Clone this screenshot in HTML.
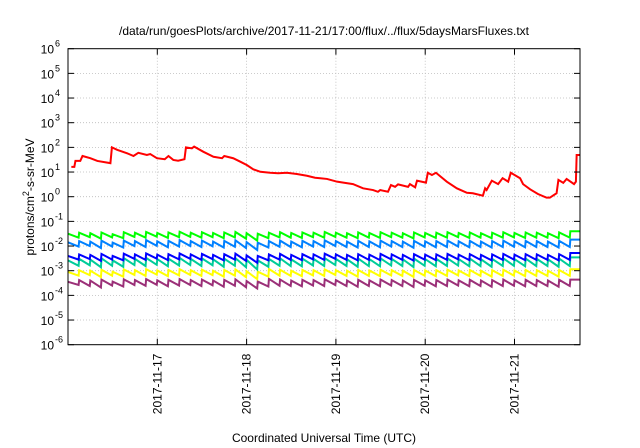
<!DOCTYPE html>
<html><head><meta charset="utf-8"><style>
body{margin:0;background:#fff}
svg{display:block;font-family:"Liberation Sans",Arial,sans-serif}
</style></head><body>
<svg id="chart" width="640" height="448" viewBox="0 0 640 448" xmlns="http://www.w3.org/2000/svg">
<text x="324" y="35" font-size="12" text-anchor="middle">/data/run/goesPlots/archive/2017-11-21/17:00/flux/../flux/5daysMarsFluxes.txt</text>
<text x="324" y="442" font-size="12" text-anchor="middle">Coordinated Universal Time (UTC)</text>
<text transform="translate(34,197) rotate(-90)" font-size="12" text-anchor="middle">protons/cm<tspan dy="-5" font-size="9">2</tspan><tspan dy="5">-s-sr-MeV</tspan></text>
<g id="grid"></g><g id="series"></g><g id="axes"></g>
</svg>
<script>
const xTickLabels=["2017-11-17","2017-11-18","2017-11-19","2017-11-20","2017-11-21"];
const xTickHours=[24,48,72,96,120];
const yTickExps=[-6,-5,-4,-3,-2,-1,0,1,2,3,4,5,6];
const redHours=[0.9,1.7,2.0,3.3,3.9,6.0,7.9,11.4,11.8,13.2,15.9,17.6,18.9,21.2,22.1,23.9,26.0,27.0,28.3,29.6,31.3,31.7,33.3,33.9,36.4,39.1,41.4,42.0,44.4,46.3,48.1,49.8,51.7,54.3,56.5,58.8,61.5,64.2,66.4,67.8,69.6,72.3,74.0,76.6,79.3,82.0,83.3,83.9,86.0,86.8,87.9,88.7,91.4,91.9,93.3,93.8,96.2,96.7,97.8,98.9,101.8,104.5,107.2,108.8,111.5,112.1,112.5,113.9,115.6,116.8,118.3,119.0,121.5,122.3,124.2,126.3,128.6,129.5,131.3,131.8,133.1,134.0,136.0,136.5,136.7,137.5];
const redLog=[1.21,1.21,1.45,1.45,1.65,1.56,1.45,1.36,2.0,1.9,1.76,1.65,1.78,1.69,1.73,1.56,1.52,1.65,1.49,1.46,1.52,2.0,1.96,2.03,1.82,1.62,1.56,1.65,1.56,1.42,1.28,1.11,1.01,0.97,0.95,0.97,0.92,0.85,0.77,0.75,0.72,0.61,0.57,0.51,0.34,0.27,0.2,0.27,0.2,0.47,0.4,0.5,0.4,0.51,0.38,0.65,0.57,0.97,0.88,0.97,0.61,0.34,0.16,0.14,0.04,0.34,0.27,0.65,0.51,0.75,0.61,0.97,0.75,0.51,0.3,0.11,-0.04,-0.04,0.14,0.68,0.56,0.72,0.51,0.61,1.69,1.69];
const greenPeaks=[-1.50,-1.46,-1.48,-1.45,-1.52,-1.44,-1.46,-1.43,-1.47,-1.45,-1.42,-1.46,-1.44,-1.47,-1.45,-1.43,-1.48,-1.50,-1.46,-1.44,-1.47,-1.45,-1.46,-1.43,-1.46,-1.48,-1.45,-1.47,-1.44,-1.46,-1.48,-1.45,-1.47,-1.46,-1.44,-1.47,-1.45,-1.48,-1.46,-1.44,-1.47,-1.45,-1.46,-1.48,-1.45,-1.40];
const greenTroughs=[-1.66,-1.64,-1.70,-1.65,-1.68,-1.63,-1.66,-1.62,-1.67,-1.64,-1.63,-1.66,-1.64,-1.68,-1.65,-1.70,-1.78,-1.68,-1.65,-1.66,-1.67,-1.64,-1.66,-1.63,-1.66,-1.68,-1.66,-1.67,-1.64,-1.66,-1.69,-1.65,-1.67,-1.66,-1.64,-1.67,-1.66,-1.68,-1.66,-1.65,-1.67,-1.66,-1.66,-1.68,-1.66,-1.67];
const azurePeaks=[-1.85,-1.80,-1.82,-1.78,-1.86,-1.78,-1.80,-1.76,-1.81,-1.79,-1.76,-1.80,-1.78,-1.82,-1.79,-1.77,-1.84,-1.86,-1.80,-1.78,-1.82,-1.79,-1.80,-1.77,-1.80,-1.82,-1.79,-1.81,-1.78,-1.80,-1.82,-1.79,-1.81,-1.80,-1.78,-1.81,-1.79,-1.82,-1.80,-1.78,-1.81,-1.79,-1.80,-1.82,-1.79,-1.74];
const azureTroughs=[-2.02,-2.00,-2.08,-2.02,-2.06,-2.00,-2.04,-1.99,-2.05,-2.02,-2.00,-2.04,-2.01,-2.06,-2.03,-2.08,-2.16,-2.06,-2.03,-2.04,-2.05,-2.02,-2.04,-2.00,-2.04,-2.06,-2.04,-2.05,-2.02,-2.04,-2.07,-2.03,-2.05,-2.04,-2.02,-2.05,-2.04,-2.06,-2.04,-2.03,-2.05,-2.04,-2.04,-2.06,-2.04,-2.05];
const bluePeaks=[-2.40,-2.34,-2.36,-2.32,-2.40,-2.31,-2.34,-2.30,-2.35,-2.33,-2.30,-2.34,-2.32,-2.36,-2.33,-2.31,-2.38,-2.40,-2.34,-2.32,-2.36,-2.33,-2.34,-2.31,-2.34,-2.36,-2.33,-2.35,-2.32,-2.34,-2.36,-2.33,-2.35,-2.34,-2.32,-2.35,-2.33,-2.36,-2.34,-2.32,-2.35,-2.33,-2.34,-2.36,-2.33,-2.28];
const blueTroughs=[-2.55,-2.53,-2.60,-2.55,-2.58,-2.52,-2.56,-2.51,-2.57,-2.54,-2.52,-2.56,-2.53,-2.58,-2.55,-2.60,-2.68,-2.58,-2.55,-2.56,-2.57,-2.54,-2.56,-2.52,-2.56,-2.58,-2.56,-2.57,-2.54,-2.56,-2.59,-2.55,-2.57,-2.56,-2.54,-2.57,-2.56,-2.58,-2.56,-2.55,-2.57,-2.56,-2.56,-2.58,-2.56,-2.57];
const tealPeaks=[-2.58,-2.52,-2.55,-2.50,-2.58,-2.49,-2.52,-2.48,-2.53,-2.51,-2.48,-2.52,-2.50,-2.54,-2.51,-2.49,-2.56,-2.58,-2.52,-2.50,-2.54,-2.51,-2.52,-2.49,-2.52,-2.54,-2.51,-2.53,-2.50,-2.52,-2.54,-2.51,-2.53,-2.52,-2.50,-2.53,-2.51,-2.54,-2.52,-2.50,-2.53,-2.51,-2.52,-2.54,-2.51,-2.46];
const tealTroughs=[-2.80,-2.78,-2.86,-2.80,-2.84,-2.77,-2.81,-2.76,-2.82,-2.79,-2.77,-2.81,-2.78,-2.84,-2.80,-2.86,-2.95,-2.84,-2.80,-2.81,-2.82,-2.79,-2.81,-2.77,-2.81,-2.84,-2.81,-2.82,-2.79,-2.81,-2.85,-2.80,-2.82,-2.81,-2.79,-2.82,-2.81,-2.84,-2.81,-2.80,-2.82,-2.81,-2.81,-2.84,-2.81,-2.82];
const yellowPeaks=[-3.05,-2.98,-3.00,-2.96,-3.04,-2.95,-2.98,-2.94,-2.99,-2.97,-2.94,-2.98,-2.96,-3.00,-2.97,-2.95,-3.02,-3.04,-2.93,-2.96,-3.00,-2.97,-2.98,-2.95,-2.98,-3.00,-2.97,-2.99,-2.96,-2.98,-3.00,-2.97,-2.99,-2.98,-2.96,-2.99,-2.97,-3.00,-2.98,-2.96,-2.99,-2.97,-2.98,-3.00,-2.97,-2.94];
const yellowTroughs=[-3.20,-3.18,-3.26,-3.20,-3.24,-3.17,-3.21,-3.16,-3.22,-3.19,-3.17,-3.21,-3.18,-3.24,-3.20,-3.26,-3.34,-3.24,-3.20,-3.21,-3.22,-3.19,-3.21,-3.17,-3.21,-3.24,-3.21,-3.22,-3.19,-3.21,-3.25,-3.20,-3.22,-3.21,-3.19,-3.22,-3.21,-3.24,-3.21,-3.20,-3.22,-3.21,-3.21,-3.24,-3.21,-3.22];
const purplePeaks=[-3.45,-3.38,-3.40,-3.36,-3.44,-3.35,-3.38,-3.34,-3.39,-3.37,-3.34,-3.38,-3.36,-3.40,-3.37,-3.35,-3.42,-3.44,-3.33,-3.36,-3.40,-3.37,-3.38,-3.35,-3.38,-3.40,-3.37,-3.39,-3.36,-3.38,-3.40,-3.37,-3.39,-3.38,-3.36,-3.39,-3.37,-3.40,-3.38,-3.36,-3.39,-3.37,-3.38,-3.40,-3.37,-3.36];
const purpleTroughs=[-3.58,-3.62,-3.68,-3.60,-3.64,-3.58,-3.61,-3.57,-3.63,-3.60,-3.58,-3.62,-3.59,-3.65,-3.61,-3.67,-3.72,-3.64,-3.61,-3.62,-3.63,-3.60,-3.62,-3.58,-3.62,-3.65,-3.62,-3.63,-3.60,-3.62,-3.66,-3.61,-3.63,-3.62,-3.60,-3.63,-3.62,-3.65,-3.62,-3.61,-3.63,-3.62,-3.62,-3.65,-3.62,-3.63];
const cycleHours=3;
const L=68,R=580,T=48.7,B=344.7,xMax=137.6;
const NS="http://www.w3.org/2000/svg";
function X(h){return L+(h/xMax)*(R-L);}
function Y(e){return B-(e+6)/12*(B-T);}
function mk(tag,attrs,parent){const e=document.createElementNS(NS,tag);for(const k in attrs)e.setAttribute(k,attrs[k]);parent.appendChild(e);return e;}
const grid=document.getElementById('grid'),axes=document.getElementById('axes'),ser=document.getElementById('series');
yTickExps.forEach(e=>{
  const y=Y(e);
  if(e>-6&&e<6){const g=mk('line',{x1:L,x2:R,y1:y,y2:y,stroke:'#bbb','stroke-width':0.8,'stroke-dasharray':'1,2'},grid);
  
  }
  const t1=mk('line',{x1:L,x2:L+6,y1:y,y2:y,stroke:'#000'},axes);
  
  
  const t2=mk('line',{x1:R-6,x2:R,y1:y,y2:y,stroke:'#000'},axes);
  
  
  const tx=mk('text',{x:L-14,y:y+5,'font-size':12,'text-anchor':'end'},axes);
  
  
  tx.textContent='10';
  const sp=mk('text',{x:L-13,y:y-2,'font-size':9,'text-anchor':'start'},axes);
  
  
  sp.textContent=String(e);
});
xTickHours.forEach((h,i)=>{
  const x=X(h);
  const g=mk('line',{x1:x,x2:x,y1:T,y2:B,stroke:'#bbb','stroke-width':0.8,'stroke-dasharray':'1,2'},grid);
  
  
  const t1=mk('line',{x1:x,x2:x,y1:B-6,y2:B,stroke:'#000'},axes);
  
  
  const t2=mk('line',{x1:x,x2:x,y1:T,y2:T+6,stroke:'#000'},axes);
  
  
  const tx=mk('text',{transform:`translate(${x+4},${B+9}) rotate(-90)`,'font-size':12,'text-anchor':'end'},axes);
  
  
  tx.textContent=xTickLabels[i];
});
const frame=mk('rect',{x:L,y:T,width:R-L,height:B-T,fill:'none',stroke:'#000','stroke-width':1},axes);


function saw(peaks,troughs,color,name){
  const pts=[];
  for(let i=0;i<peaks.length;i++){
    const t0=i*cycleHours;
    if(t0>xMax)break;
    pts.push([X(t0),Y(peaks[i])]);
    if(i<troughs.length&&i<peaks.length-1){const t1=Math.min(t0+cycleHours*0.95,xMax);pts.push([X(t1),Y(troughs[i])]);}
  }
  const last=peaks[peaks.length-1];
  pts.push([X(xMax),Y(last)]);
  const p=mk('polyline',{points:pts.map(q=>q.join(',')).join(' '),fill:'none',stroke:color,'stroke-width':2,'stroke-linejoin':'miter'},ser);
  
  
}
saw(purplePeaks,purpleTroughs,'#9b3078','series-purple');
saw(yellowPeaks,yellowTroughs,'#ffff00','series-yellow');
saw(tealPeaks,tealTroughs,'#00cc99','series-teal');
saw(bluePeaks,blueTroughs,'#0000ff','series-blue');
saw(azurePeaks,azureTroughs,'#0080ff','series-azure');
saw(greenPeaks,greenTroughs,'#00ff00','series-green');
const rp=mk('polyline',{points:redHours.map((h,i)=>X(h)+','+Y(redLog[i])).join(' '),fill:'none',stroke:'#ff0000','stroke-width':2},ser);


</script>
</body></html>
